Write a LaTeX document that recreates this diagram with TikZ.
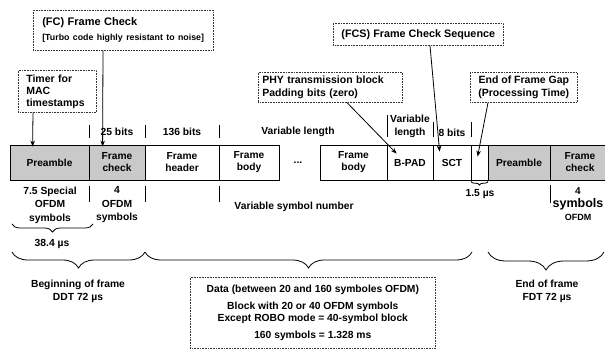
\documentclass[tikz,border=0pt]{standalone}
\usepackage{fontspec}
\setmainfont{Liberation Sans}
\usetikzlibrary{decorations.pathreplacing,arrows.meta,calc}
\begin{document}
\begin{tikzpicture}[x=1pt,y=-1pt,
  font=\bfseries\fontsize{10.3}{12}\selectfont,
  cell/.style={draw, line width=0.8pt, minimum height=35pt, inner sep=0pt, align=center, font=\bfseries\fontsize{10.2}{12}\selectfont},
  shaded/.style={cell, fill=gray!42},
  note/.style={draw=black!80, dash pattern=on 0.7pt off 0.9pt, line width=0.6pt, inner sep=0pt},
  lbl/.style={align=center, inner sep=0pt},
  tick/.style={line width=0.8pt},
  arr/.style={line width=0.8pt, -{Stealth[length=6pt,width=4.5pt]}},
  brc/.style={decorate, decoration={brace, mirror, amplitude=#1}, line width=0.8pt}]
\useasboundingbox[fill=white] (0,0) rectangle (605,352);

% frame cells
\node[shaded, minimum width=79pt] (pre1) at (49.5,162.5) {Preamble};
\node[shaded, minimum width=56pt] (fc1) at (117,162.5) {Frame\\check};
\node[cell, minimum width=74pt] (fh) at (182,162.5) {Frame\\header};
\node[cell, minimum width=60pt] (fb1) at (249,162.5) {Frame\\body};
\node[lbl] (dots) at (298,163) {...};
\node[cell, minimum width=67pt] (fb2) at (353.5,162.5) {Frame\\body};
\node[cell, minimum width=46pt] (bpad) at (410,162.5) {B-PAD};
\node[cell, minimum width=38pt] (sct) at (452,162.5) {SCT};
\node[cell, minimum width=17pt] (gap) at (479.5,162.5) {};
\node[shaded, minimum width=62pt] (pre2) at (519,162.5) {Preamble};
\node[shaded, minimum width=60pt] (fc2) at (580,162.5) {Frame\\check};

% ticks
\foreach \x in {89,145,219} {
  \draw[tick] (\x,125) -- (\x,138);
  \draw[tick] (\x,186) -- (\x,202);
}
\draw[tick] (387,115) -- (387,137);
\draw[tick] (433,122) -- (433,137);
\draw[tick] (471,122) -- (471,137);
\draw[tick] (550,185) -- (550,203);

% labels above
\node[lbl] (l25) at (117,132) {25 bits};
\node[lbl] (l136) at (182,132) {136 bits};
\node[lbl] (lvar) at (298,132) {Variable length};
\node[lbl, font=\bfseries\fontsize{10.3}{13}\selectfont] (lvar2) at (410,126.5) {Variable\\length};
\node[lbl] (l8) at (452,133) {8 bits};

% labels below
\node[lbl, font=\bfseries\fontsize{10.3}{13.5}\selectfont] (b1) at (50,205) {7.5 Special\\OFDM\\symbols};
\node[lbl, font=\bfseries\fontsize{10.3}{13.5}\selectfont] (b2) at (117,205) {4\\OFDM\\symbols};
\node[lbl] (b3) at (294,207) {Variable symbol number};
\node[lbl] (b4) at (480,194) {1.5 µs};
\node[lbl, font=\bfseries\fontsize{10}{13}\selectfont] (b5) at (578,204) {4\\{\fontsize{12.5}{13}\selectfont symbols}\\{\fontsize{9}{11}\selectfont OFDM}};
\node[lbl] (b6) at (52,244) {38.4 µs};
\node[lbl, font=\bfseries\fontsize{10.3}{13}\selectfont] (b7) at (78,291) {Beginning of frame\\DDT 72 µs};
\node[lbl, font=\bfseries\fontsize{10.3}{13}\selectfont] (b8) at (547,291) {End of frame\\FDT 72 µs};

% braces
\draw[brc=3.5] (471,181.5) -- (488,181.5);
\draw[brc=8] (12,224) -- (93,224);
\draw[brc=16] (12,252) -- (145,252);
\draw[brc=16] (145,252) -- (472,252);
\draw[brc=18] (488,252) -- (604,252);

% annotation boxes
\node[note, anchor=north west, minimum width=180pt, minimum height=40pt, text width=170pt, align=left] (fcn) at (33,10)
  {\hspace*{4pt}{\fontsize{11}{13}\selectfont (FC) Frame Check}\\[3pt]\hspace*{4pt}{\fontsize{8.8}{10}\selectfont [Turbo code highly resistant to noise]}};
\node[note, anchor=north west, minimum width=78pt, minimum height=42pt, text width=62pt, align=left, font=\bfseries\fontsize{10.5}{12}\selectfont] (tmr) at (18,70)
  {Timer for\\MAC\\timestamps};
\node[note, anchor=north west, minimum width=144pt, minimum height=30pt, text width=136pt, align=left, font=\bfseries\fontsize{10.5}{13}\selectfont] (phy) at (258,72)
  {PHY transmission block\\Padding bits (zero)};
\node[note, anchor=north west, minimum width=170pt, minimum height=22pt, align=center, font=\bfseries\fontsize{10.8}{13}\selectfont] (fcs) at (333,23)
  {(FCS) Frame Check Sequence};
\node[note, anchor=north west, minimum width=107pt, minimum height=30pt, align=center, font=\bfseries\fontsize{10.5}{13}\selectfont] (eofg) at (470,72)
  {End of Frame Gap\\(Processing Time)};
\node[note, anchor=north west, minimum width=245pt, minimum height=71pt, align=center, font=\bfseries\fontsize{10.3}{12}\selectfont] (data) at (190,277)
  {Data (between 20 and 160 symboles OFDM)\\[5pt]Block with 20 or 40 OFDM symbols\\Except ROBO mode = 40-symbol block\\[5pt]160 symbols = 1.328 ms};

% arrows
\draw[arr] ([xshift=15pt]tmr.south west) -- ([xshift=23pt,yshift=-2pt]pre1.north west);
\draw[arr] ([xshift=70pt]fcn.south west) -- ([xshift=14pt,yshift=-2pt]fc1.north west);
\draw[arr] ([xshift=89pt]phy.south west) -- ([xshift=10pt,yshift=-9pt]bpad.north west);
\draw[arr] ([xshift=97pt]fcs.south west) -- ([xshift=7pt,yshift=-7pt]sct.north west);
\draw[arr] ([xshift=18pt]eofg.south west) -- ([xshift=7pt,yshift=-12pt]gap.north west);
\end{tikzpicture}
\end{document}
